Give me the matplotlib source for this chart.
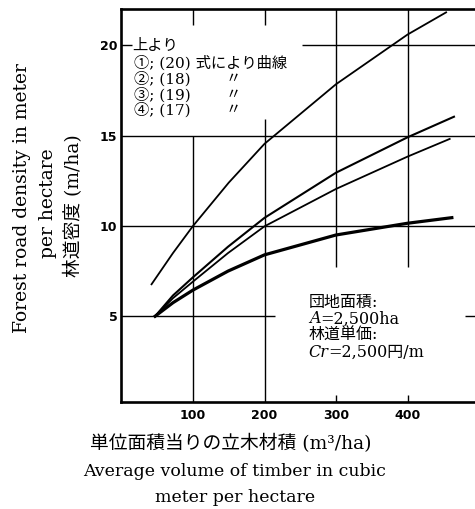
import matplotlib
matplotlib.use("Agg")
import matplotlib.pyplot as plt

SERIF = ["DejaVu Serif", "Noto Sans CJK JP", "DejaVu Sans"]
plt.rcParams["font.family"] = SERIF

# Average standing volume (m3/ha) vs. forest road density (m/ha)
curve1_x = [42, 72, 100, 150, 200, 300, 400, 454]
curve1_y = [6.77, 8.5, 10.0, 12.4, 14.55, 17.85, 20.6, 21.83]

curve2_x = [47, 72, 100, 149, 200, 300, 400, 465]
curve2_y = [5.0, 6.15, 7.16, 8.85, 10.45, 12.95, 14.91, 16.05]

curve3_x = [47, 72, 100, 149, 200, 300, 400, 459]
curve3_y = [5.0, 6.0, 6.92, 8.5, 9.98, 12.05, 13.84, 14.82]

curve4_x = [47, 72, 100, 149, 200, 300, 400, 462]
curve4_y = [5.0, 5.75, 6.45, 7.5, 8.4, 9.5, 10.15, 10.46]

x_ticks = [100, 200, 300, 400]
y_ticks = [5, 10, 15, 20]

legend_lines = ["上より", "①; (20) 式により曲線", "②; (18)", "③; (19)", "④; (17)"]

XMIN, XMAX = 0, 494.4
YMIN, YMAX = 0.25, 22.0

fig = plt.figure(figsize=(4.75, 5.09), dpi=100)
ax = fig.add_axes([121.5 / 475, (509 - 402) / 509, 1 - 121.5 / 475, (402 - 9.3) / 509])
ax.set_xlim(XMIN, XMAX)
ax.set_ylim(YMIN, YMAX)

# partial grid lines as in the printed figure
grid_kw = dict(color="black", lw=1.0, solid_capstyle="butt", zorder=1)
v_spans = {
    100: [(YMIN, 15.0), (21.13, YMAX)],
    200: [(YMIN, 15.9), (21.13, YMAX)],
    300: [(YMIN, 0.65), (7.7, YMAX)],
    400: [(YMIN, 0.65), (7.7, YMAX)],
}
h_spans = {
    5: [(XMIN, 215), (480, XMAX)],
    10: [(XMIN, XMAX)],
    15: [(XMIN, XMAX)],
    20: [(XMIN, 14), (252, XMAX)],
}
for xv in x_ticks:
    for y0, y1 in v_spans[xv]:
        ax.plot([xv, xv], [y0, y1], **grid_kw)
for yv in y_ticks:
    for x0, x1 in h_spans[yv]:
        ax.plot([x0, x1], [yv, yv], **grid_kw)

ax.plot(curve1_x, curve1_y, color="black", lw=1.3, zorder=3)
ax.plot(curve2_x, curve2_y, color="black", lw=1.5, zorder=3)
ax.plot(curve3_x, curve3_y, color="black", lw=1.3, zorder=3)
ax.plot(curve4_x, curve4_y, color="black", lw=2.3, zorder=3)

for side in ["left", "bottom", "top"]:
    ax.spines[side].set_linewidth(1.9)
ax.spines["right"].set_visible(False)

tick_font = dict(family=["Liberation Sans Narrow", "DejaVu Sans"], weight="bold", size=9)
ax.set_xticks(x_ticks)
ax.set_xticklabels([str(v) for v in x_ticks], **tick_font)
ax.set_yticks(y_ticks)
ax.set_yticklabels([str(v) for v in y_ticks], **tick_font)
ax.tick_params(length=0)
ax.tick_params(axis="x", pad=5)
ax.tick_params(axis="y", pad=3)

# curve key
key_size = 11
ax.text(15.5, 19.97, legend_lines[0], fontsize=key_size, va="center", ha="left")
key_rows = [19.03, 18.14, 17.26, 16.42]
for i, row_y in enumerate(key_rows):
    ax.text(18, row_y, legend_lines[i + 1], fontsize=key_size, va="center", ha="left")
    if i > 0:
        ax.text(156, row_y, "〃", fontsize=key_size, va="center", ha="center")

# conditions
note_size = 11.5
ax.text(262, 5.75, "団地面積:", fontsize=note_size, va="center", ha="left")
t_a = ax.text(262, 4.6, "A", fontsize=note_size, fontstyle="italic", va="baseline", ha="left")
ax.annotate("=2,500ha", xy=(1, 4.6), xycoords=(t_a, "data"), fontsize=note_size,
            va="baseline", ha="left")
ax.text(262, 3.95, "林道単価:", fontsize=note_size, va="center", ha="left")
t_c = ax.text(262, 2.75, "Cr", fontsize=note_size, fontstyle="italic", va="baseline", ha="left")
ax.annotate("=2,500円/m", xy=(1, 2.75), xycoords=(t_c, "data"), fontsize=note_size,
            va="baseline", ha="left")

# axis titles
ylab = 13.5
fig.text(22 / 475, 1 - 198 / 509, "Forest road density in meter", rotation=90,
         fontsize=ylab, ha="center", va="center")
fig.text(48 / 475, 1 - 203 / 509, "per hectare", rotation=90,
         fontsize=ylab, ha="center", va="center")
fig.text(73 / 475, 1 - 206 / 509, "林道密度 (m/ha)", rotation=90,
         fontsize=ylab, ha="center", va="center")

fig.text(231 / 475, 1 - 443 / 509, "単位面積当りの立木材積 (m³/ha)",
         fontsize=13.5, ha="center", va="center")
fig.text(235 / 475, 1 - 472 / 509, "Average volume of timber in cubic",
         fontsize=12.5, ha="center", va="center")
fig.text(235 / 475, 1 - 498 / 509, "meter per hectare",
         fontsize=12.5, ha="center", va="center")

fig.savefig("out.png", dpi=100)
